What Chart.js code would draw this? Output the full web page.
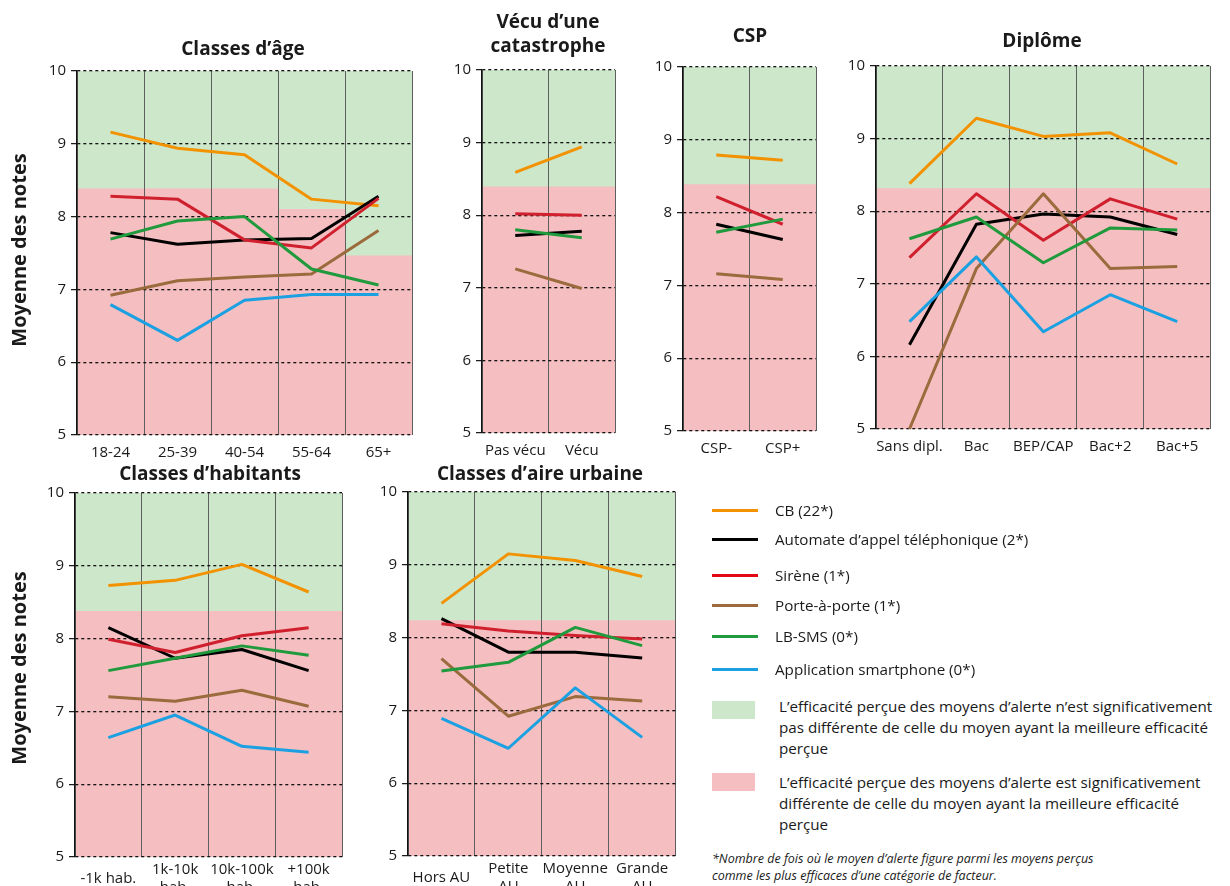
<!DOCTYPE html>
<html><head><meta charset="utf-8">
<script src="https://cdn.jsdelivr.net/npm/chart.js@4.4.1/dist/chart.umd.min.js"></script>
<style>
html,body{margin:0;padding:0;width:1230px;height:886px;overflow:hidden;background:#fff;font-family:"Open Sans",sans-serif;color:#1a1a1a}
canvas{position:absolute}
.title{position:absolute;font-weight:700;font-size:19px;text-align:center;transform:translate(-50%,-50%);white-space:nowrap;line-height:24px}
.ytitle{position:absolute;font-weight:700;font-size:20px;white-space:nowrap;transform:translate(-50%,-50%) rotate(-90deg)}
.lg-line{position:absolute;left:712px;width:46px;height:3px}
.lg-text{position:absolute;left:775px;font-size:15.2px;line-height:20px;white-space:nowrap;transform:translateY(-50%)}
.lg-box{position:absolute;left:712px;width:43px;height:18px}
.lg-para{position:absolute;left:779px;font-size:15.2px;line-height:21px;white-space:nowrap}
.foot{position:absolute;left:712px;top:850px;font-size:12.5px;line-height:17px;font-style:italic;white-space:nowrap}
</style></head><body>
<div id="root"></div>
<script>
// ---------- DATA ----------
const seriesNames = ['CB (22*)', "Automate d\u2019appel téléphonique (2*)", 'Sirène (1*)', 'Porte-à-porte (1*)', 'LB-SMS (0*)', 'Application smartphone (0*)'];
const yTicks = [5, 6, 7, 8, 9, 10];

const ageCats = ['18-24', '25-39', '40-54', '55-64', '65+'];
const ageCB     = [9.16, 8.94, 8.85, 8.24, 8.15];
const ageAuto   = [7.78, 7.62, 7.68, 7.70, 8.28];
const ageSirene = [8.28, 8.24, 7.68, 7.57, 8.25];
const agePorte  = [6.92, 7.12, 7.17, 7.21, 7.81];
const ageSMS    = [7.69, 7.94, 8.00, 7.28, 7.06];
const ageAppli  = [6.79, 6.30, 6.85, 6.93, 6.93];
const ageThreshold = [8.38, 8.38, 8.38, 8.10, 7.46];

const vecuCats = ['Pas vécu', 'Vécu'];
const vecuCB     = [8.59, 8.94];
const vecuAuto   = [7.72, 7.78];
const vecuSirene = [8.02, 8.00];
const vecuPorte  = [7.26, 6.99];
const vecuSMS    = [7.80, 7.69];
const vecuAppli  = [null, null];
const vecuThreshold = [8.39, 8.39];

const cspCats = ['CSP-', 'CSP+'];
const cspCB     = [8.79, 8.72];
const cspAuto   = [7.84, 7.63];
const cspSirene = [8.22, 7.84];
const cspPorte  = [7.16, 7.08];
const cspSMS    = [7.73, 7.91];
const cspAppli  = [null, null];
const cspThreshold = [8.385, 8.385];

const dipCats = ['Sans dipl.', 'Bac', 'BEP/CAP', 'Bac+2', 'Bac+5'];
const dipCB     = [8.38, 9.28, 9.03, 9.08, 8.65];
const dipAuto   = [6.16, 7.82, 7.96, 7.92, 7.68];
const dipSirene = [7.36, 8.24, 7.60, 8.17, 7.89];
const dipPorte  = [5.00, 7.21, 8.24, 7.21, 7.24];
const dipSMS    = [7.62, 7.92, 7.29, 7.77, 7.74];
const dipAppli  = [6.48, 7.37, 6.34, 6.85, 6.48];
const dipThreshold = [8.31, 8.31, 8.31, 8.31, 8.31];

const habCats = [['-1k hab.'], ['1k-10k', 'hab.'], ['10k-100k', 'hab.'], ['+100k', 'hab.']];
const habCB     = [8.73, 8.80, 9.02, 8.64];
const habAuto   = [8.15, 7.73, 7.85, 7.56];
const habSirene = [7.99, 7.81, 8.04, 8.15];
const habPorte  = [7.20, 7.14, 7.29, 7.07];
const habSMS    = [7.56, 7.73, 7.90, 7.77];
const habAppli  = [6.64, 6.95, 6.52, 6.44];
const habThreshold = [8.375, 8.375, 8.375, 8.375];

const aireCats = [['Hors AU'], ['Petite', 'AU'], ['Moyenne', 'AU'], ['Grande', 'AU']];
const aireCB     = [8.47, 9.15, 9.06, 8.84];
const aireAuto   = [8.26, 7.80, 7.80, 7.72];
const aireSirene = [8.19, 8.09, 8.03, 7.98];
const airePorte  = [7.71, 6.92, 7.19, 7.13];
const aireSMS    = [7.54, 7.66, 8.14, 7.89];
const aireAppli  = [6.89, 6.48, 7.31, 6.63];
const aireThreshold = [8.235, 8.235, 8.235, 8.235];

// ---------- STYLE ----------
const seriesColors = ['#f39200', '#000000', '#d0202e', '#9b6a3d', '#1f9a3c', '#1ba1e2'];
const legendColors = ['#f39200', '#000000', '#e30613', '#9b6a3d', '#1f9a3c', '#1ba1e2'];
const GREEN_BG = '#cce7c9', PINK_BG = '#f5bec1';
const YW = 40, XH = 56, PADT = 16, PADR = 6;

Chart.defaults.font.family = "'Open Sans', sans-serif";
Chart.defaults.color = '#1a1a1a';

const panels = [
  {title: 'Classes d\u2019âge', tx: 243, ty: 48, L: 77, T: 71, W: 335, H: 364, cats: ageCats,
   series: [ageCB, ageAuto, ageSirene, agePorte, ageSMS, ageAppli], thr: ageThreshold, xPad: 18},
  {title: 'Vécu d\u2019une<br>catastrophe', tx: 548, ty: 33, L: 482, T: 70, W: 133, H: 363, cats: vecuCats,
   series: [vecuCB, vecuAuto, vecuSirene, vecuPorte, vecuSMS, vecuAppli], thr: vecuThreshold, xPad: 18},
  {title: 'CSP', tx: 750, ty: 35, L: 683, T: 67, W: 133, H: 364, cats: cspCats,
   series: [cspCB, cspAuto, cspSirene, cspPorte, cspSMS, cspAppli], thr: cspThreshold, xPad: 18},
  {title: 'Diplôme', tx: 1042, ty: 40, L: 876, T: 66, W: 335, H: 363, cats: dipCats,
   series: [dipCB, dipAuto, dipSirene, dipPorte, dipSMS, dipAppli], thr: dipThreshold, xPad: 18},
  {title: 'Classes d\u2019habitants', tx: 210, ty: 473, L: 75, T: 493, W: 267, H: 364, cats: habCats,
   series: [habCB, habAuto, habSirene, habPorte, habSMS, habAppli], thr: habThreshold, xPad: 13},
  {title: 'Classes d\u2019aire urbaine', tx: 540, ty: 473, L: 408, T: 492, W: 268, H: 364, cats: aireCats,
   series: [aireCB, aireAuto, aireSirene, airePorte, aireSMS, aireAppli], thr: aireThreshold, xPad: 13},
];

const root = document.getElementById('root');

function makeScales(p, fg) {
  return {
    x: {
      type: 'category', offset: true,
      afterFit: s => { s.height = XH; },
      grid: {display: fg, offset: true, drawTicks: false, color: '#5e5e5e', lineWidth: 1},
      border: {display: false},
      ticks: {display: fg, color: '#1a1a1a', font: {size: 15}, padding: p.xPad, maxRotation: 0, minRotation: 0, autoSkip: false, crossAlign: 'center'}
    },
    y: {
      min: 5, max: 10,
      afterFit: s => { s.width = YW; },
      afterBuildTicks: s => { s.ticks = yTicks.map(v => ({value: v})); },
      grid: {display: fg, color: '#111', lineWidth: 1.3, tickLength: 6, tickColor: '#111', tickWidth: 1.2},
      border: {display: fg, color: '#111', width: 1.3, dash: [3, 3]},
      ticks: {display: fg, color: '#1a1a1a', font: {size: 15}, padding: 5}
    }
  };
}

function addCanvas(p) {
  const c = document.createElement('canvas');
  const w = p.W + YW + PADR, h = p.H + PADT + XH;
  c.width = w; c.height = h;
  c.style.left = (p.L - YW) + 'px';
  c.style.top = (p.T - PADT) + 'px';
  c.style.width = w + 'px'; c.style.height = h + 'px';
  root.appendChild(c);
  return c;
}

const baseOpts = {
  responsive: false, maintainAspectRatio: false, animation: false, devicePixelRatio: 1,
  layout: {padding: {top: PADT, right: PADR, left: 0, bottom: 0}},
  plugins: {legend: {display: false}, tooltip: {enabled: false}, title: {display: false}}
};

panels.forEach(p => {
  // background layer: significance zones as floating bars
  const bg = addCanvas(p);
  new Chart(bg, {
    type: 'bar',
    data: {
      labels: p.cats,
      datasets: [
        {data: p.thr.map(t => [5, t]), backgroundColor: PINK_BG, grouped: false, barPercentage: 1, categoryPercentage: 1, borderWidth: 0},
        {data: p.thr.map(t => [t, 10]), backgroundColor: GREEN_BG, grouped: false, barPercentage: 1, categoryPercentage: 1, borderWidth: 0}
      ]
    },
    options: Object.assign({}, baseOpts, {scales: makeScales(p, false)})
  });
  // foreground layer: grid + lines
  const fg = addCanvas(p);
  const order = [5, 4, 3, 2, 1, 0];
  new Chart(fg, {
    type: 'line',
    data: {
      labels: p.cats,
      datasets: order.map(i => ({
        label: seriesNames[i], data: p.series[i], borderColor: seriesColors[i],
        borderWidth: 3, pointRadius: 0, tension: 0, fill: false, spanGaps: false,
        borderJoinStyle: 'round', clip: 4
      }))
    },
    options: Object.assign({}, baseOpts, {scales: makeScales(p, true)})
  });
  const t = document.createElement('div');
  t.className = 'title'; t.innerHTML = p.title;
  t.style.left = p.tx + 'px'; t.style.top = p.ty + 'px';
  root.appendChild(t);
});

[[18, 250], [18, 668]].forEach(([x, y]) => {
  const d = document.createElement('div');
  d.className = 'ytitle'; d.textContent = 'Moyenne des notes';
  d.style.left = x + 'px'; d.style.top = y + 'px';
  root.appendChild(d);
});

// legend
const legendY = [510, 539, 575, 605, 636, 669];
seriesNames.forEach((n, i) => {
  const l = document.createElement('div');
  l.className = 'lg-line'; l.style.background = legendColors[i];
  l.style.top = (legendY[i] - 1.5) + 'px';
  root.appendChild(l);
  const t = document.createElement('div');
  t.className = 'lg-text'; t.textContent = n; t.style.top = legendY[i] + 'px';
  root.appendChild(t);
});
const boxes = [
  {color: GREEN_BG, top: 701, ptop: 696, text: 'L\u2019efficacité perçue des moyens d\u2019alerte n\u2019est significativement<br>pas différente de celle du moyen ayant la meilleure efficacité<br>perçue'},
  {color: PINK_BG, top: 773, ptop: 772, text: 'L\u2019efficacité perçue des moyens d\u2019alerte est significativement<br>différente de celle du moyen ayant la meilleure efficacité<br>perçue'}
];
boxes.forEach(b => {
  const d = document.createElement('div');
  d.className = 'lg-box'; d.style.background = b.color; d.style.top = b.top + 'px';
  root.appendChild(d);
  const t = document.createElement('div');
  t.className = 'lg-para'; t.innerHTML = b.text; t.style.top = b.ptop + 'px';
  root.appendChild(t);
});
const f = document.createElement('div');
f.className = 'foot';
f.innerHTML = '*Nombre de fois où le moyen d\u2019alerte figure parmi les moyens perçus<br>comme les plus efficaces d\u2019une catégorie de facteur.';
root.appendChild(f);
</script>
</body></html>
